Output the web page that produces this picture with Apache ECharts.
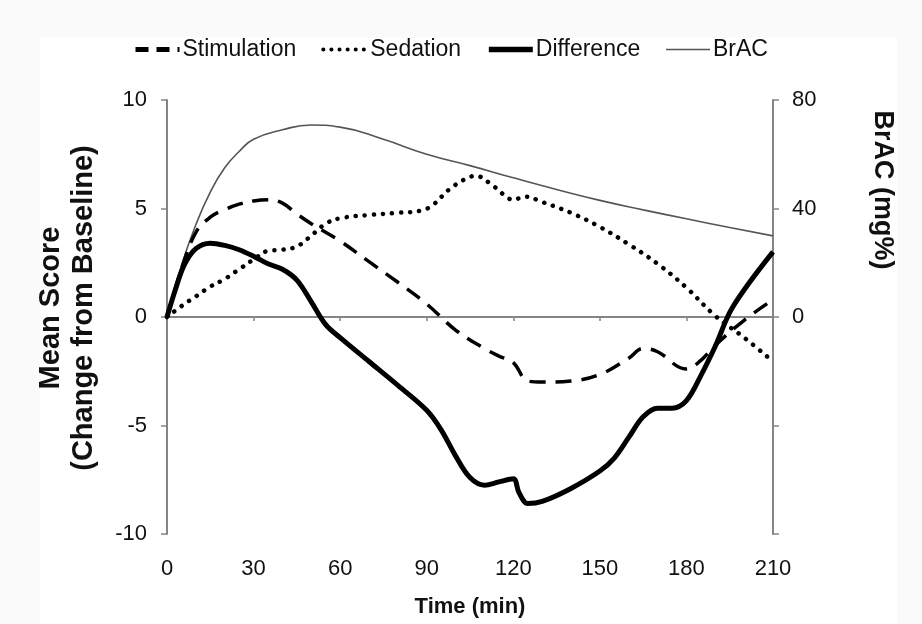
<!DOCTYPE html>
<html>
<head>
<meta charset="utf-8">
<script src="https://cdn.jsdelivr.net/npm/echarts@6/dist/echarts.min.js"></script>
<style>html,body{margin:0;padding:0;background:#fafafa}#c{width:922px;height:624px}</style>
</head>
<body>
<div id="c"></div>
<script>
// Time points (min) and values for each series
var stimT = [0,5,10,15,20,25,30,35,40,45,50,60,70,80,90,100,110,115,120,125,130,140,150,160,165,170,180,185,190,200,210];
var stimV = [0,2.2,3.9,4.6,4.95,5.2,5.35,5.4,5.25,4.75,4.3,3.5,2.55,1.6,0.6,-0.6,-1.45,-1.8,-2.1,-2.95,-3.0,-2.95,-2.65,-1.9,-1.45,-1.6,-2.4,-2.0,-1.3,-0.15,0.8];

var sedT = [0,5,10,15,20,25,30,35,40,45,50,55,60,70,80,88,92,98,104,107,112,118,120,124,130,140,150,160,170,180,190,200,210];
var sedV = [0,0.5,0.95,1.4,1.75,2.2,2.65,3.05,3.1,3.25,3.75,4.3,4.55,4.7,4.8,4.9,5.15,5.9,6.4,6.5,6.15,5.5,5.4,5.55,5.3,4.8,4.15,3.35,2.45,1.35,0.05,-0.95,-2.05];

var diffT = [0,3,6,10,15,20,25,30,35,40,45,50,55,60,70,80,90,95,100,105,110,115,120,122,125,130,140,150,155,160,165,170,175,180,185,190,196,210];
var diffV = [0,1.3,2.4,3.15,3.4,3.3,3.1,2.8,2.45,2.2,1.7,0.7,-0.35,-0.95,-2.05,-3.15,-4.3,-5.2,-6.4,-7.4,-7.75,-7.6,-7.45,-8.1,-8.6,-8.5,-7.9,-7.1,-6.5,-5.55,-4.6,-4.2,-4.2,-3.85,-2.7,-1.35,0.45,3.0];

var bracT = [0,5,10,15,20,25,30,40,50,60,75,90,105,120,135,150,165,180,195,210];
var bracV = [0,19,34,46,55,61,65.5,69,70.8,70,65.5,60,55.8,51.3,47,43,39.5,36.2,33,29.9];

var xTicks = [0,30,60,90,120,150,180,210];
var leftTicks = [-10,-5,0,5,10];
var rightTickLabels = [0,40,80];

function pairs(t, v){ return t.map(function(x,i){ return [x, v[i]]; }); }

var FONT = 'Liberation Sans, Arial, sans-serif';
var AX = '#858585';

var chart = echarts.init(document.getElementById('c'), null, {renderer:'canvas'});
chart.setOption({
  backgroundColor: '#fafafa',
  animation: false,
  graphic: [
    {type:'rect', shape:{x:40,y:38,width:857,height:586}, style:{fill:'#ffffff'}, z:-10, silent:true},
    {type:'text', x:882, y:190, rotation:-Math.PI/2,
     style:{text:'BrAC (mg%)', font:'bold 27px ' + FONT, fill:'#111', align:'center', verticalAlign:'middle'}}
  ],
  legend: {
    left: 128, top: 33,
    itemWidth: 44, itemHeight: 14, itemGap: 25,
    itemStyle: {opacity: 0},
    textStyle: {fontFamily: FONT, fontSize: 23, color: '#111', padding:[0,0,0,-2]},
    data: [
      {name:'Stimulation', lineStyle:{type:[13, 8], width: 5, color:'#000'}},
      {name:'Sedation', lineStyle:{type:[0.1, 8], width: 4, cap:'round', color:'#000'}},
      {name:'Difference', lineStyle:{width: 5.5, color:'#000'}},
      {name:'BrAC', lineStyle:{width: 1.6, color:'#555'}}
    ]
  },
  grid: {left: 167, right: 149, top: 100, bottom: 90, containLabel: false, outerBoundsMode: 'none'},
  xAxis: {
    type: 'value', min: 0, max: 210, interval: 30,
    axisLine: {onZero: true, lineStyle: {color: AX, width: 2}},
    axisTick: {show: true, length: 4, lineStyle: {color: AX, width: 1.5}},
    splitLine: {show: false},
    axisLabel: {margin: 24, fontFamily: FONT, fontSize: 22, color: '#111',
      formatter: function(v){ return xTicks.indexOf(v) >= 0 ? String(v) : ''; }},
    name: 'Time (min)', nameLocation: 'middle', nameGap: 62,
    nameTextStyle: {fontFamily: FONT, fontSize: 22, fontWeight: 'bold', color: '#111'}
  },
  yAxis: [
    {
      type: 'value', min: -10, max: 10, interval: 5, position: 'left',
      axisLine: {show: true, onZero: false, lineStyle: {color: AX, width: 2}},
      axisTick: {show: true, length: 6, lineStyle: {color: AX, width: 1.5}},
      splitLine: {show: false},
      axisLabel: {margin: 20, fontFamily: FONT, fontSize: 22, color: '#111',
        formatter: function(v){ return leftTicks.indexOf(v) >= 0 ? String(v) : ''; }},
      name: 'Mean Score\n(Change from Baseline)', nameLocation: 'middle', nameGap: 67, nameRotate: 90,
      nameTextStyle: {fontFamily: FONT, fontSize: 29, fontWeight: 'bold', color: '#111', lineHeight: 33, padding: [0,0,0,18]}
    },
    {
      type: 'value', min: -80, max: 80, interval: 40, position: 'right',
      axisLine: {show: true, onZero: false, lineStyle: {color: AX, width: 2}},
      axisTick: {show: true, length: 6, lineStyle: {color: AX, width: 1.5}},
      splitLine: {show: false},
      axisLabel: {margin: 19, fontFamily: FONT, fontSize: 22, color: '#111',
        formatter: function(v){ return rightTickLabels.indexOf(v) >= 0 ? String(v) : ''; }}
    }
  ],
  series: [
    {name: 'Stimulation', type: 'line', yAxisIndex: 0, data: pairs(stimT, stimV), smooth: 0.4,
     showSymbol: false, symbol: 'none', lineStyle: {color: '#000', width: 3.5, type: [16, 10]}, itemStyle: {color:'#000'}, z: 3},
    {name: 'Sedation', type: 'line', yAxisIndex: 0, data: pairs(sedT, sedV), smooth: 0.4,
     showSymbol: false, symbol: 'none', lineStyle: {color: '#000', width: 4.5, type: [0.1, 9], cap: 'round'}, itemStyle: {color:'#000'}, z: 3},
    {name: 'Difference', type: 'line', yAxisIndex: 0, data: pairs(diffT, diffV), smooth: 0.35,
     showSymbol: false, symbol: 'none', lineStyle: {color: '#000', width: 5}, itemStyle: {color:'#000'}, z: 4},
    {name: 'BrAC', type: 'line', yAxisIndex: 1, data: pairs(bracT, bracV), smooth: 0.5,
     showSymbol: false, symbol: 'none', lineStyle: {color: '#555', width: 1.6}, itemStyle: {color:'#555'}, z: 2}
  ]
});
</script>
</body>
</html>
